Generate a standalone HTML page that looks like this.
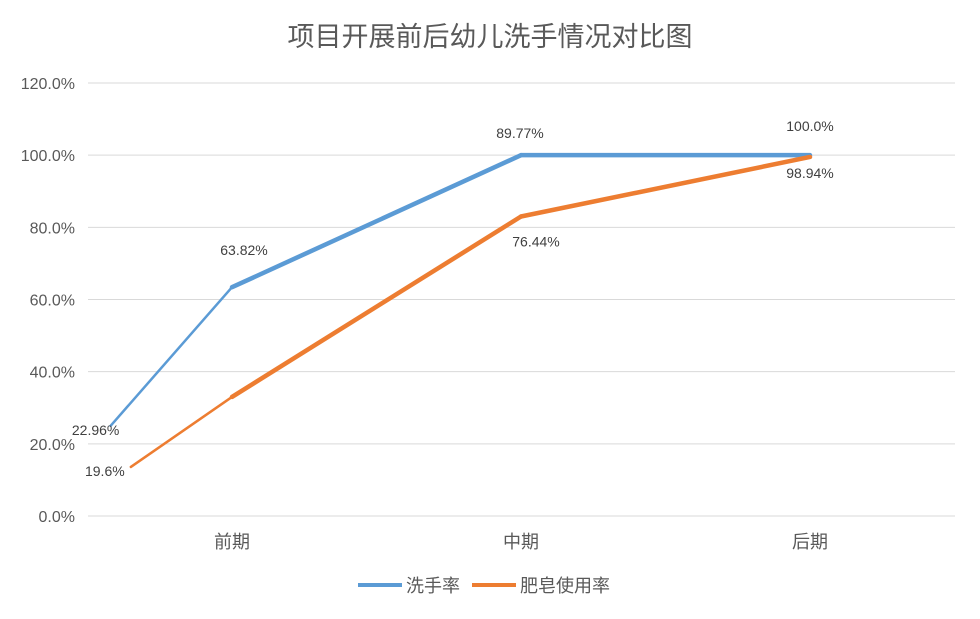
<!DOCTYPE html>
<html><head><meta charset="utf-8"><style>
body{margin:0;background:#fff;}
svg{display:block;font-family:"Liberation Sans","Noto Sans CJK SC",sans-serif;}
</style></head><body>
<svg id="c" width="980" height="619" viewBox="0 0 980 619">
<text x="490" y="46" text-anchor="middle" font-size="27" fill="#595959">项目开展前后幼儿洗手情况对比图</text>
<g id="grid"></g><g id="lines"></g><g id="labels"></g>
<g>
<line x1="358" y1="585" x2="402" y2="585" stroke="#5b9bd5" stroke-width="4"/>
<text x="406" y="592" font-size="18" fill="#595959">洗手率</text>
<line x1="472" y1="585" x2="516" y2="585" stroke="#ed7d31" stroke-width="4"/>
<text x="520" y="592" font-size="18" fill="#595959">肥皂使用率</text>
</g>
</svg>
<script>
const categories=["前期","中期","后期"];
const yTicks=["0.0%","20.0%","40.0%","60.0%","80.0%","100.0%","120.0%"];
const handX=[-0.42,0,1,2];
const handValues=[25,63.4,100,100];
const handLabels=["22.96%","63.82%","89.77%","100.0%"];
const soapX=[-0.35,0,1,2];
const soapValues=[13.6,33,83,99.5];
const soapLabels=["19.6%","","76.44%","98.94%"];

const NS="http://www.w3.org/2000/svg";
const x=i=>232+i*289;
const y=v=>516-v*(433/120);
function mk(tag,attrs,parent,text){const e=document.createElementNS(NS,tag);for(const k in attrs)e.setAttribute(k,attrs[k]);if(text!==undefined)e.textContent=text;document.getElementById(parent).appendChild(e);return e;}
yTicks.forEach((t,i)=>{
  const g=mk("line",{x1:88,x2:955,y1:y(i*20),y2:y(i*20),stroke:"#d9d9d9","stroke-width":1},"grid");
  
  
  const l=mk("text",{x:75,y:y(i*20)+6,"text-anchor":"end","font-size":16,fill:"#595959"},"grid",t);
  
  
});
categories.forEach((c,i)=>{
  const l=mk("text",{x:x(i),y:548,"text-anchor":"middle","font-size":18,fill:"#595959"},"grid",c);
  
  
});
function series(xs,vs,color,name){
  for(let i=0;i<vs.length-1;i++){
    const s=mk("line",{x1:x(xs[i]),y1:y(vs[i]),x2:x(xs[i+1]),y2:y(vs[i+1]),stroke:color,"stroke-width":i===0?2.5:4.5,"stroke-linecap":"round"},"lines");
    
    
  }
}
series(handX,handValues,"#5b9bd5","handwash-line");
series(soapX,soapValues,"#ed7d31","soap-line");
const handOff=[[-15,9],[12,-32],[-1,-17],[0,-24]];
const soapOff=[[-26,9],[0,0],[15,30],[0,21]];
function labels(xs,vs,ls,off,name){
  ls.forEach((t,i)=>{if(!t)return;
    const l=mk("text",{x:x(xs[i])+off[i][0],y:y(vs[i])+off[i][1],"text-anchor":"middle","font-size":14,fill:"#404040"},"labels",t);
    
    
  });
}
labels(handX,handValues,handLabels,handOff,"handwash-value-label");
labels(soapX,soapValues,soapLabels,soapOff,"soap-value-label");
</script>
</body></html>
